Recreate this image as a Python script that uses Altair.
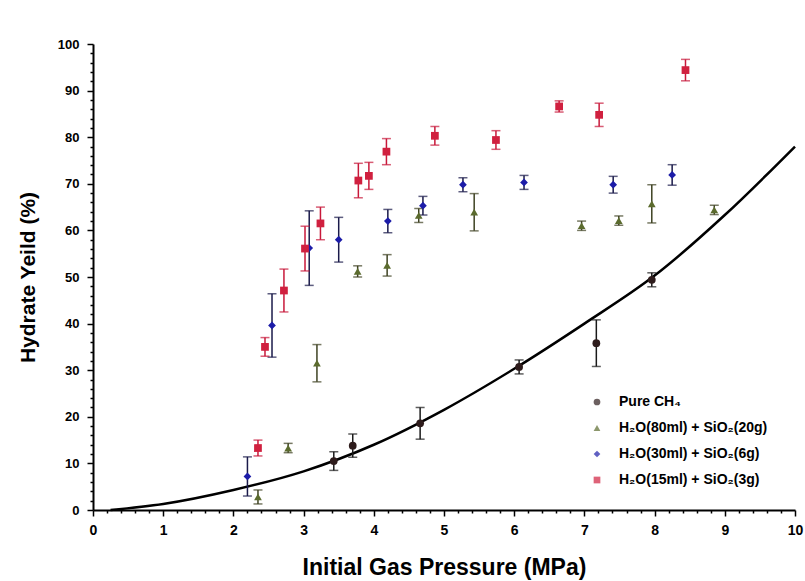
import altair as alt
import pandas as pd

# ---- data ----
series_names = ["Pure CH₄", "H₂O(80ml) + SiO₂(20g)", "H₂O(30ml) + SiO₂(6g)", "H₂O(15ml) + SiO₂(3g)"]

ch4_x = [3.43, 3.70, 4.66, 6.07, 7.17, 7.96]
ch4_y = [10.5, 13.8, 18.6, 30.7, 35.8, 49.4]
ch4_e = [2.0, 2.5, 3.4, 1.5, 5.0, 1.5]

tri_x = [2.35, 2.78, 3.19, 3.77, 4.19, 4.64, 5.43, 6.96, 7.49, 7.96, 8.85]
tri_y = [2.8, 13.3, 31.5, 51.2, 52.5, 63.2, 63.9, 61.0, 62.1, 65.7, 64.4]
tri_e = [1.5, 1.0, 4.0, 1.2, 2.3, 1.5, 4.0, 1.0, 1.0, 4.1, 1.0]

dia_x = [2.20, 2.55, 3.08, 3.50, 4.20, 4.70, 5.27, 6.14, 7.41, 8.25]
dia_y = [7.2, 39.6, 56.2, 58.0, 62.0, 65.3, 69.8, 70.3, 69.8, 71.9]
dia_e = [4.2, 6.8, 8.0, 4.8, 2.5, 2.0, 1.5, 1.5, 1.8, 2.2]

sq_x = [2.35, 2.45, 2.72, 3.02, 3.24, 3.78, 3.93, 4.18, 4.87, 5.74, 6.64, 7.21, 8.44]
sq_y = [13.3, 35.0, 47.1, 56.1, 61.5, 70.7, 71.7, 76.9, 80.3, 79.4, 86.6, 84.8, 94.4]
sq_e = [1.7, 2.0, 4.6, 4.8, 3.5, 3.7, 2.9, 2.8, 2.0, 2.0, 1.2, 2.5, 2.3]

# fitted curve for pure CH4
fit_x = [0.25, 1, 2, 3, 4, 5, 6, 7, 8, 9, 10]
fit_y = [0.0, 1.3, 4.3, 8.3, 14.0, 21.5, 30.3, 40.0, 50.3, 63.3, 78.0]

x_ticks = [round(i * 0.2, 1) for i in range(0, 51)]
y_ticks = list(range(0, 101, 2))

marker_colors = ["#2e1c1c", "#5b6b2e", "#1c1ca8", "#d0203f"]
bar_colors = ["#1a1a1a", "#3e4222", "#1a1a4a", "#c8183a"]
shapes = ["circle", "triangle-up", "diamond", "square"]

rows = []
for name, xs, ys, es, bc in [
    (series_names[0], ch4_x, ch4_y, ch4_e, bar_colors[0]),
    (series_names[1], tri_x, tri_y, tri_e, bar_colors[1]),
    (series_names[2], dia_x, dia_y, dia_e, bar_colors[2]),
    (series_names[3], sq_x, sq_y, sq_e, bar_colors[3]),
]:
    for x, y, e in zip(xs, ys, es):
        rows.append({"series": name, "x": x, "y": y, "lo": y - e, "hi": y + e, "bc": bc})
df = pd.DataFrame(rows)
fit_df = pd.DataFrame({"x": fit_x, "y": fit_y})

FONT = "Liberation Sans"

xscale = alt.Scale(domain=[0, 10], nice=False, zero=False)
yscale = alt.Scale(domain=[0, 100], nice=False, zero=False)

x_axis = alt.Axis(
    values=x_ticks,
    labelExpr="abs(datum.value - round(datum.value)) < 0.001 ? format(datum.value, 'd') : ''",
    tickSize={"condition": {"test": "abs(datum.value - round(datum.value)) < 0.001", "value": 6}, "value": 3},
    title="Initial Gas Pressure (MPa)",
    labelPadding=7,
    titlePadding=19,
    labelFontSize=14,
    titleFontSize=23,
)
y_axis = alt.Axis(
    values=y_ticks,
    labelExpr="datum.value % 10 === 0 ? format(datum.value, 'd') : ''",
    tickSize={"condition": {"test": "datum.value % 10 === 0", "value": 6}, "value": 3},
    title="Hydrate Yeild (%)",
    labelPadding=8,
    titlePadding=19,
    labelFontSize=13,
    titleFontSize=21,
)

def X(field):
    return alt.X(field, type="quantitative", scale=xscale, axis=x_axis)

def Y(field):
    return alt.Y(field, type="quantitative", scale=yscale, axis=y_axis)

base = alt.Chart(df)

fit = alt.Chart(fit_df).mark_line(color="black", strokeWidth=2.5, interpolate="monotone").encode(
    x=X("x"), y=Y("y"),
)

rules = base.mark_rule(strokeWidth=1.5).encode(
    x=X("x"), y=Y("lo"), y2="hi:Q", color=alt.Color("bc:N", scale=None)
)
cap_lo = base.mark_tick(size=9, thickness=1.5, orient="horizontal").encode(
    x=X("x"), y=Y("lo"), color=alt.Color("bc:N", scale=None)
)
cap_hi = base.mark_tick(size=9, thickness=1.5, orient="horizontal").encode(
    x=X("x"), y=Y("hi"), color=alt.Color("bc:N", scale=None)
)

points = base.mark_point(filled=True, size=60, opacity=1).encode(
    x=X("x"),
    y=Y("y"),
    color=alt.Color(
        "series:N",
        scale=alt.Scale(domain=series_names, range=marker_colors),
        sort=series_names,
        legend=alt.Legend(
            title=None, orient="none", legendX=497, legendY=351,
            labelFont=FONT, labelFontSize=14, labelFontWeight="bold", labelColor="black",
            symbolSize=45, symbolOpacity=1, rowPadding=12, labelOffset=15, padding=0,
            labelLimit=300,
        ),
    ),
    shape=alt.Shape("series:N", scale=alt.Scale(domain=series_names, range=shapes), sort=series_names),
)

chart = alt.layer(fit, rules, cap_lo, cap_hi, points).properties(
    width=702, height=466,
    autosize=alt.AutoSizeParams(type="none"),
    padding={"left": 93, "top": 44, "right": 10, "bottom": 71},
    background="white",
).configure_view(strokeWidth=0).configure_axis(
    grid=False,
    domainColor="black", domainWidth=2,
    tickColor="black", tickWidth=1.5,
    labelFont=FONT, labelFontWeight="bold", labelColor="black",
    labelFlush=False, labelOverlap=False,
    titleFont=FONT, titleFontWeight="bold", titleColor="black",
)

chart.save("out.html", embed_options={"renderer": "svg", "actions": False})
